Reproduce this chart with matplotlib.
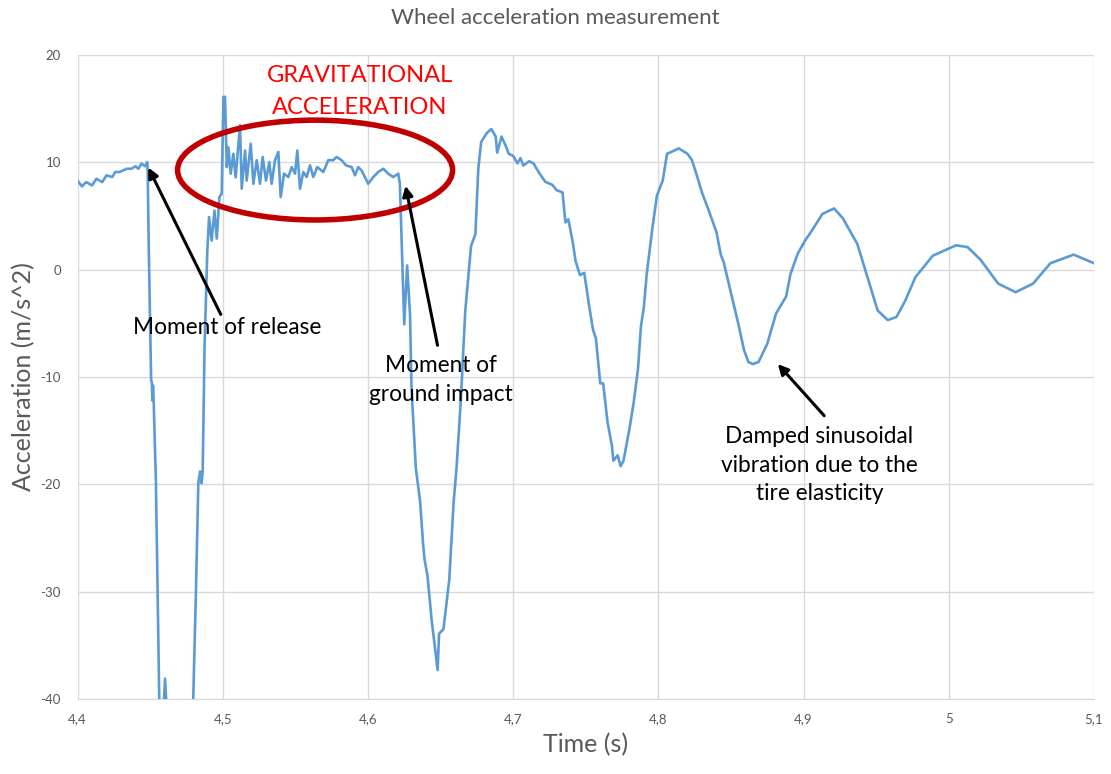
import matplotlib
matplotlib.use("Agg")
import matplotlib.pyplot as plt
from matplotlib.patches import Ellipse

plt.rcParams['font.family'] = ['Lato', 'DejaVu Sans']
plt.rcParams['axes.unicode_minus'] = False

# time (s) and wheel acceleration (m/s^2)
time_s = [
    4.400, 4.403, 4.406, 4.410, 4.413, 4.417, 4.420, 4.424, 4.426, 4.429,
    4.434, 4.437, 4.440, 4.442, 4.444, 4.4466, 4.448, 4.4483, 4.4491, 4.4507,
    4.4512, 4.4516, 4.4520, 4.4524, 4.454, 4.4563, 4.458, 4.4603, 4.4625, 4.470,
    4.478, 4.4797, 4.4816, 4.4832, 4.4844, 4.4855, 4.4862, 4.4875, 4.4894, 4.4906,
    4.4924, 4.4943, 4.4959, 4.4977, 4.4993, 4.5005, 4.5016, 4.5028, 4.5039, 4.5055,
    4.5073, 4.5089, 4.5119, 4.5131, 4.5154, 4.5165, 4.5193, 4.5211, 4.5234, 4.5257,
    4.5275, 4.5298, 4.5321, 4.5337, 4.5360, 4.5383, 4.5399, 4.5422, 4.5452, 4.5475,
    4.5498, 4.5514, 4.5532, 4.5555, 4.5578, 4.5601, 4.5624, 4.5651, 4.5693, 4.5727,
    4.5761, 4.5784, 4.5819, 4.5849, 4.5888, 4.5911, 4.5933, 4.5956, 4.5979, 4.6002,
    4.6037, 4.6071, 4.6106, 4.6140, 4.6174, 4.6209, 4.6220, 4.6235, 4.625, 4.627,
    4.629, 4.630, 4.633, 4.636, 4.638, 4.639, 4.641, 4.644, 4.645, 4.648,
    4.649, 4.652, 4.656, 4.659, 4.661, 4.664, 4.667, 4.671, 4.674, 4.676,
    4.678, 4.682, 4.685, 4.688, 4.689, 4.692, 4.695, 4.697, 4.700, 4.703,
    4.705, 4.707, 4.711, 4.714, 4.718, 4.722, 4.727, 4.730, 4.734, 4.736,
    4.738, 4.741, 4.743, 4.746, 4.749, 4.752, 4.755, 4.757, 4.759, 4.760,
    4.762, 4.765, 4.768, 4.769, 4.772, 4.774, 4.776, 4.780, 4.783, 4.786,
    4.788, 4.790, 4.792, 4.796, 4.799, 4.803, 4.806, 4.811, 4.814, 4.820,
    4.823, 4.826, 4.830, 4.835, 4.840, 4.843, 4.845, 4.849, 4.855, 4.859,
    4.862, 4.865, 4.869, 4.875, 4.881, 4.888, 4.891, 4.896, 4.901, 4.906,
    4.913, 4.921, 4.927, 4.937, 4.944, 4.951, 4.958, 4.964, 4.970, 4.977,
    4.989, 5.005, 5.013, 5.022, 5.034, 5.046, 5.058, 5.070, 5.086, 5.100,
]
accel = [
    8.3, 7.76, 8.16, 7.85, 8.47, 8.16, 8.79, 8.63, 9.1, 9.1,
    9.4, 9.4, 9.63, 9.4, 9.88, 9.63, 10.03, 9.5, 1.8, -10.3,
    -10.5, -12.2, -10.8, -12.0, -19.8, -40, -44, -38.1, -44, -50,
    -44, -40, -29.8, -19.9, -18.8, -19.9, -18.8, -7.2, 1.8, 4.9,
    2.7, 5.5, 2.9, 6.76, 7.07, 16.1, 16.1, 9.56, 11.4, 8.94,
    10.8, 8.6, 13.46, 7.54, 11.1, 8.3, 11.74, 8.0, 10.2, 8.0,
    10.5, 8.3, 10.03, 8.0, 10.2, 10.97, 6.76, 8.94, 8.63, 9.56,
    8.94, 11.1, 7.54, 9.1, 8.63, 9.72, 8.63, 9.56, 9.1, 10.2,
    10.2, 10.5, 10.2, 9.72, 9.56, 8.79, 9.56, 9.25, 8.63, 8.0,
    8.63, 9.1, 9.4, 8.94, 8.63, 8.94, 8.0, 1.5, -5.1, 0.4,
    -4.2, -11, -18.5, -21.7, -25.6, -27, -28.5, -32.8, -33.9, -37.3,
    -33.9, -33.5, -28.9, -21.7, -18.5, -12.1, -3.9, 2.2, 3.3, 9.4,
    11.9, 12.75, 13.1, 12.4, 10.9, 12.4, 11.5, 10.8, 10.6, 9.9,
    10.4, 9.7, 10.1, 9.9, 9.0, 8.2, 7.9, 7.4, 7.2, 4.4,
    4.7, 2.6, 0.8, -0.5, -0.3, -3.1, -5.6, -6.4, -9.2, -10.6,
    -10.6, -14.2, -16.4, -17.8, -17.3, -18.3, -17.8, -14.9, -12.4, -9.2,
    -5.3, -3.5, -0.4, 4.0, 6.9, 8.3, 10.8, 11.1, 11.3, 10.8,
    10.25, 9.0, 7.2, 5.4, 3.5, 1.4, 0.7, -1.6, -5.0, -7.5,
    -8.6, -8.8, -8.6, -6.9, -4.1, -2.5, -0.4, 1.5, 2.7, 3.7,
    5.2, 5.7, 4.8, 2.4, -0.7, -3.8, -4.7, -4.4, -2.9, -0.7,
    1.3, 2.27, 2.1, 0.9, -1.3, -2.1, -1.3, 0.6, 1.4, 0.6,
]

x_ticks = [4.4, 4.5, 4.6, 4.7, 4.8, 4.9, 5.0, 5.1]
x_tick_labels = ["4,4", "4,5", "4,6", "4,7", "4,8", "4,9", "5", "5,1"]
y_ticks = [-40, -30, -20, -10, 0, 10, 20]

grey = "#595959"
grid_c = "#D9D9D9"

fig = plt.figure(figsize=(11.11, 7.74), dpi=100)
ax = fig.add_axes([77.5 / 1111, 1 - 699 / 774, (1094 - 77.5) / 1111, (699 - 55) / 774])

ax.plot(time_s, accel, color="#5B9BD5", lw=1.9, zorder=3)

ax.set_xlim(4.4, 5.1)
ax.set_ylim(-40, 20)
ax.set_xticks(x_ticks)
ax.set_xticklabels(x_tick_labels)
ax.set_yticks(y_ticks)
ax.grid(True, color=grid_c, lw=1.0)
ax.set_axisbelow(True)
for s in ["top", "right", "left"]:
    ax.spines[s].set_visible(False)
ax.spines["bottom"].set_color(grid_c)
ax.tick_params(length=0, colors=grey, labelsize=9.5)
ax.tick_params(axis="x", pad=10)
ax.tick_params(axis="y", pad=12)

ax.set_xlabel("Time (s)", fontsize=18, color=grey, labelpad=6)
ax.set_ylabel("Acceleration (m/s^2)", fontsize=18, color=grey, labelpad=4)
fig.text(0.5, 1 - 18 / 774, "Wheel acceleration measurement", ha="center", va="center",
         fontsize=16, color=grey)

# annotations
ell = Ellipse((4.5636, 9.28), 0.1894, 9.3, fill=False, edgecolor="#C00000", lw=4, zorder=4)
ax.add_patch(ell)
ax.text(4.5946, 16.6, "GRAVITATIONAL\nACCELERATION", color="#FF0000", fontsize=17,
        ha="center", va="center", linespacing=1.65, zorder=5)

arrow = dict(arrowstyle="-|>,head_length=0.6,head_width=0.3", color="black", lw=2.2)
ax.annotate("", xy=(4.4479, 9.75), xytext=(4.4995, -4.4), arrowprops=arrow, zorder=5)
ax.text(4.503, -5.4, "Moment of release", fontsize=16.3, ha="center", va="center", zorder=5)

ax.annotate("", xy=(4.6255, 8.07), xytext=(4.6483, -7.3), arrowprops=arrow, zorder=5)
ax.text(4.650, -10.3, "Moment of\nground impact", fontsize=16.3, ha="center", va="center",
        linespacing=1.5, zorder=5)

ax.annotate("", xy=(4.881, -8.6), xytext=(4.9155, -13.8), arrowprops=arrow, zorder=5)
ax.text(4.911, -18.2, "Damped sinusoidal\nvibration due to the\ntire elasticity", fontsize=16.3,
        ha="center", va="center", linespacing=1.42, zorder=5)

fig.savefig("out.png", dpi=100)
